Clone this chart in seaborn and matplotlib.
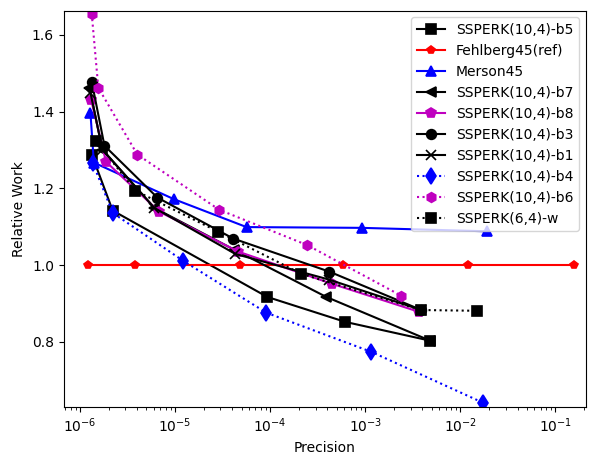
import matplotlib
matplotlib.use("Agg")
import matplotlib.pyplot as plt
import seaborn as sns
import pandas as pd

# ---- data ----
b5_x = [1.33e-6, 2.21e-6, 9.35e-5, 6.18e-4, 4.84e-3]
b5_y = [1.288, 1.142, 0.917, 0.852, 0.803]

fehl_x = [1.23e-6, 3.82e-6, 4.86e-5, 5.89e-4, 1.21e-2, 1.57e-1]
fehl_y = [1.0, 1.0, 1.0, 1.0, 1.0, 1.0]

merson_x = [1.29e-6, 1.40e-6, 9.67e-6, 5.65e-5, 9.17e-4, 1.92e-2]
merson_y = [1.396, 1.267, 1.172, 1.099, 1.097, 1.088]

b7_x = [1.26e-6, 1.72e-6, 6.06e-6, 4.20e-5, 3.90e-4, 4.84e-3]
b7_y = [1.462, 1.301, 1.149, 1.040, 0.917, 0.803]

b8_x = [1.31e-6, 1.88e-6, 6.84e-6, 4.63e-5, 4.51e-4, 3.71e-3]
b8_y = [1.431, 1.269, 1.139, 1.035, 0.951, 0.878]

b3_x = [1.33e-6, 1.81e-6, 6.51e-6, 4.10e-5, 4.19e-4, 3.89e-3]
b3_y = [1.478, 1.311, 1.176, 1.069, 0.983, 0.883]

b1_x = [1.29e-6, 1.72e-6, 6.06e-6, 4.31e-5, 4.19e-4, 3.89e-3]
b1_y = [1.449, 1.301, 1.149, 1.029, 0.962, 0.883]

b4_x = [1.36e-6, 2.21e-6, 1.22e-5, 9.12e-5, 1.16e-3, 1.75e-2]
b4_y = [1.267, 1.136, 1.011, 0.876, 0.774, 0.641]

b6_x = [1.33e-6, 1.56e-6, 4.01e-6, 2.92e-5, 2.46e-4, 2.40e-3]
b6_y = [1.655, 1.462, 1.288, 1.144, 1.052, 0.920]

w_x = [1.49e-6, 3.82e-6, 2.85e-5, 2.13e-4, 3.89e-3, 1.51e-2]
w_y = [1.322, 1.194, 1.087, 0.977, 0.883, 0.881]

series = [
    ("SSPERK(10,4)-b5", b5_x, b5_y, "k", "s", "-", 7),
    ("Fehlberg45(ref)", fehl_x, fehl_y, "r", "p", "-", 6),
    ("Merson45", merson_x, merson_y, "b", "^", "-", 7),
    ("SSPERK(10,4)-b7", b7_x, b7_y, "k", "<", "-", 7),
    ("SSPERK(10,4)-b8", b8_x, b8_y, "m", "p", "-", 7),
    ("SSPERK(10,4)-b3", b3_x, b3_y, "k", "o", "-", 7),
    ("SSPERK(10,4)-b1", b1_x, b1_y, "k", "x", "-", 7),
    ("SSPERK(10,4)-b4", b4_x, b4_y, "b", "d", ":", 8),
    ("SSPERK(10,4)-b6", b6_x, b6_y, "m", "h", ":", 7),
    ("SSPERK(6,4)-w", w_x, w_y, "k", "s", ":", 7),
]

fig, ax = plt.subplots(figsize=(5.96, 4.58), dpi=100)
fig.subplots_adjust(left=0.107, right=0.983, top=0.977, bottom=0.111)

for name, xs, ys, col, mk, ls, ms in series:
    df = pd.DataFrame({"Precision": xs, "Relative Work": ys})
    sns.lineplot(data=df, x="Precision", y="Relative Work", ax=ax, sort=False,
                 color=col, marker=mk, linestyle=ls, linewidth=1.5,
                 markersize=ms, markeredgecolor=col, markeredgewidth=1.2,
                 label=name)

ax.set_xscale("log")
ax.set_xlim(10**-6.17, 10**-0.68)
ax.set_ylim(0.63, 1.663)
ax.set_xlabel("Precision")
ax.set_ylabel("Relative Work")
ax.legend(loc="upper right")

fig.savefig("out.png", dpi=100)
